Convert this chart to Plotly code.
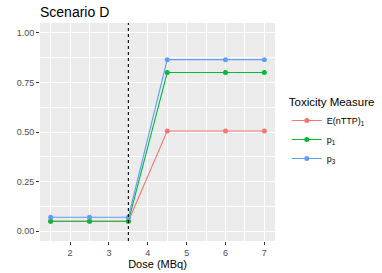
import plotly.graph_objects as go

dose = [1.5, 2.5, 3.5, 4.5, 6, 7]
e_nttp = [0.05, 0.05, 0.05, 0.505, 0.505, 0.505]
p1 = [0.05, 0.05, 0.05, 0.80, 0.80, 0.80]
p3 = [0.07, 0.07, 0.07, 0.865, 0.865, 0.865]
series_names = ["E(nTTP)<sub>1</sub>", "p<sub>1</sub>", "p<sub>3</sub>"]
colors = ["#F8766D", "#00BA38", "#619CFF"]
mtd_dose = 3.5

fig = go.Figure()
for name, vals, c in zip(series_names, [e_nttp, p1, p3], colors):
    fig.add_trace(go.Scatter(x=dose, y=vals, mode="lines+markers", name=name,
                             line=dict(color=c, width=1.1),
                             marker=dict(color=c, size=5)))

fig.add_vline(x=mtd_dose, line=dict(color="black", width=1.1, dash="dot"))

axis_common = dict(showgrid=True, gridcolor="white", gridwidth=1.1,
                   zeroline=False, showline=False, ticks="outside", ticklen=3,
                   tickcolor="#333333", tickwidth=1, automargin=False,
                   tickfont=dict(size=9, color="#4D4D4D"))
fig.update_xaxes(range=[1.225, 7.275], tickvals=[2, 3, 4, 5, 6, 7],
                 minor=dict(tickvals=[1.5, 2.5, 3.5, 4.5, 5.5, 6.5], showgrid=True,
                            gridcolor="white", gridwidth=0.5, ticks=""),
                 title=dict(text="Dose (MBq)", font=dict(size=11, color="black"), standoff=2),
                 **axis_common)
fig.update_yaxes(range=[-0.05, 1.05], tickvals=[0, 0.25, 0.5, 0.75, 1.0],
                 ticktext=["0.00", "0.25", "0.50", "0.75", "1.00"],
                 minor=dict(tickvals=[0.125, 0.375, 0.625, 0.875], showgrid=True,
                            gridcolor="white", gridwidth=0.5, ticks=""),
                 **axis_common)

fig.update_layout(
    width=382, height=273,
    margin=dict(l=40, r=107, t=23, b=32, autoexpand=False),
    plot_bgcolor="#EBEBEB", paper_bgcolor="white",
    font=dict(family="Liberation Sans, Arial, sans-serif", size=9, color="black"),
    title=dict(text="Scenario D", x=40/382, xanchor="left", y=1 - 12/273, yref="container",
               yanchor="middle", font=dict(size=14, color="black")),
    legend=dict(title=dict(text="Toxicity Measure", font=dict(size=11.5)),
                x=1.05, xanchor="left", y=0.5, yanchor="middle",
                font=dict(size=9), bgcolor="white", tracegroupgap=0,
                itemwidth=30),
)

fig.write_html("out.html", config={"displayModeBar": False},
               post_script="document.body.style.margin='0';")
